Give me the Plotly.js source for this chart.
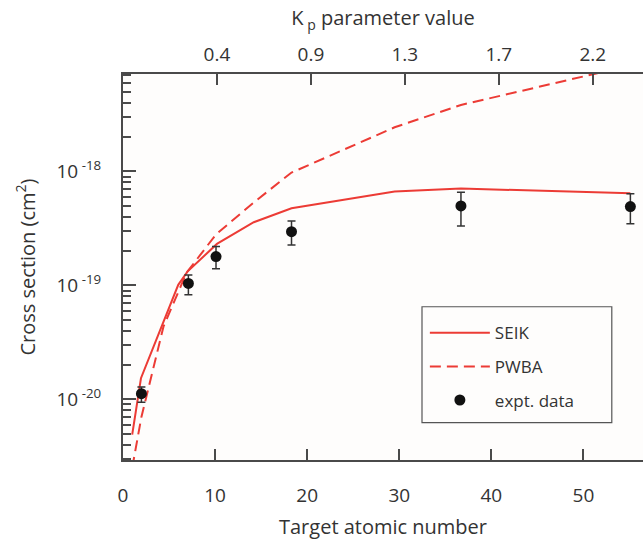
<!DOCTYPE html>
<html>
<head>
<meta charset="utf-8">
<script src="https://cdn.plot.ly/plotly-3.0.1.min.js"></script>
<style>html,body{margin:0;padding:0;background:#fff;}#chart{width:643px;height:540px;}</style>
</head>
<body>
<div id="chart"></div>
<script>
// Experimental data (target atomic number vs cross section, cm^2)
const exptZ = [2, 7.1, 10.1, 18.3, 36.7, 55.1];
const exptSigma = [1.12e-20, 1.04e-19, 1.79e-19, 2.96e-19, 4.98e-19, 4.91e-19];
const exptErrPlus = [0.16e-20, 0.195e-19, 0.40e-19, 0.72e-19, 1.59e-19, 1.47e-19];
const exptErrMinus = [0.18e-20, 0.214e-19, 0.39e-19, 0.70e-19, 1.66e-19, 1.43e-19];

// SEIK theory
const seikZ = [1.0, 1.95, 6.0, 7.0, 10.2, 14.2, 18.3, 29.5, 36.7, 55.1];
const seikSigma = [4.9e-21, 1.53e-20, 1.01e-19, 1.32e-19, 2.31e-19, 3.58e-19, 4.75e-19, 6.65e-19, 7.07e-19, 6.44e-19];

// PWBA theory
const pwbaZ = [1.0, 2.0, 4.4, 6.9, 10.1, 14.1, 18.3, 29.5, 36.7, 51.1, 55.1];
const pwbaSigma = [2.5e-21, 7.0e-21, 4.36e-20, 1.29e-19, 2.8e-19, 5.26e-19, 9.77e-19, 2.44e-18, 3.83e-18, 7.16e-18, 8.5e-18];

// Axis ticks
const bottomTicks = [0, 10, 20, 30, 40, 50];
const bottomTickText = ['0', '10', '20', '30', '40', '50'];
const topTickPos = [1, 2, 3, 4, 5];
const topTickText = ['0.4', '0.9', '1.3', '1.7', '2.2'];
const yTickVals = [1e-20, 1e-19, 1e-18];
const yTickText = ['10<sup> -20</sup>', '10<sup> -19</sup>', '10<sup> -18</sup>'];

const RED = '#ec3b35';
const FONT = '"Open Sans", "Segoe UI", sans-serif';
const TXT = '#333333';
const AX = '#4a4a4a';

const traces = [
  {x: seikZ, y: seikSigma, mode: 'lines', name: 'SEIK', legendgroup: 'a',
   line: {color: RED, width: 2}},
  {x: pwbaZ, y: pwbaSigma, mode: 'lines', name: 'PWBA', legendgroup: 'b',
   line: {color: RED, width: 2, dash: '11px,6px'}},
  {x: exptZ, y: exptSigma, mode: 'markers', name: 'expt. data', legendgroup: 'c',
   marker: {color: '#111', size: 11},
   error_y: {type: 'data', symmetric: false, array: exptErrPlus, arrayminus: exptErrMinus,
             color: '#333', thickness: 1.5, width: 4}},
  {x: [], y: [], xaxis: 'x2', yaxis: 'y', showlegend: false, hoverinfo: 'skip'}
];

const layout = {
  width: 643, height: 540,
  margin: {l: 123, r: 0, t: 74, b: 80},
  paper_bgcolor: '#ffffff',
  plot_bgcolor: '#fefdfc',
  font: {family: FONT, color: TXT, size: 18},
  showlegend: true,
  legend: {
    x: 0.5805, y: 0.375, xanchor: 'left', yanchor: 'top',
    bgcolor: 'rgba(0,0,0,0)', borderwidth: 0,
    font: {family: FONT, size: 17, color: TXT},
    itemwidth: 60, tracegroupgap: 8.5, traceorder: 'grouped'
  },
  shapes: [{
    type: 'rect', xref: 'paper', yref: 'paper',
    x0: 0.575, x1: 0.94, y0: 0.097, y1: 0.397,
    line: {color: '#555', width: 1.2}, fillcolor: 'rgba(0,0,0,0)', layer: 'above'
  }],
  xaxis: {
    range: [0, 56.47], showgrid: false, zeroline: false,
    showline: true, linecolor: AX, linewidth: 2,
    tickmode: 'array', tickvals: bottomTicks, ticktext: bottomTickText,
    ticks: 'inside', ticklen: 11, tickwidth: 2, tickcolor: AX,
    ticklabelstandoff: 17,
    tickfont: {family: FONT, size: 19, color: TXT},
    title: {text: 'Target atomic number', font: {family: FONT, size: 20, color: TXT}, standoff: 19}
  },
  xaxis2: {
    overlaying: 'x', side: 'top', range: [0, 5.535], showgrid: false, zeroline: false,
    showline: true, linecolor: AX, linewidth: 2,
    tickmode: 'array', tickvals: topTickPos, ticktext: topTickText,
    ticks: 'inside', ticklen: 11, tickwidth: 2, tickcolor: AX,
    ticklabelstandoff: 3,
    tickfont: {family: FONT, size: 19, color: TXT},
    title: {text: 'K<sub> p</sub> parameter value', font: {family: FONT, size: 20, color: TXT}, standoff: 10}
  },
  yaxis: {
    type: 'log', range: [-20.533, -17.145], showgrid: false, zeroline: false,
    showline: true, linecolor: AX, linewidth: 2,
    tickmode: 'array', tickvals: yTickVals, ticktext: yTickText,
    ticks: 'inside', ticklen: 13, tickwidth: 2, tickcolor: AX,
    ticklabelstandoff: 16,
    tickfont: {family: FONT, size: 19, color: TXT},
    minor: {dtick: 'D1', ticks: 'inside', ticklen: 8, tickwidth: 2, tickcolor: AX, showgrid: false},
    title: {text: 'Cross section (cm<sup>2</sup>)', font: {family: FONT, size: 20, color: TXT}, standoff: 16}
  }
};

Plotly.newPlot('chart', traces, layout, {displayModeBar: false, staticPlot: true});
</script>
</body>
</html>
